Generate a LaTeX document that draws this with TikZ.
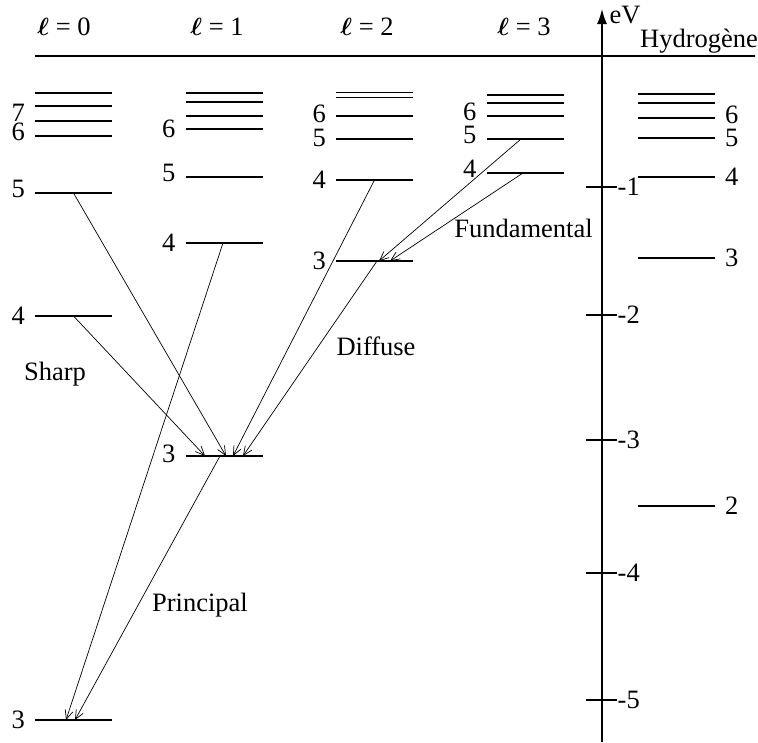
\documentclass[tikz,border=0pt]{standalone}
\usepackage{bm}
\usepackage{fontspec}
\setmainfont{Liberation Serif}
\usetikzlibrary{arrows.meta,positioning}

\begin{document}
\begin{tikzpicture}[x=1pt, y=-1pt,
  font=\fontsize{26.5}{31}\selectfont,
  lvl/.style={inner sep=0pt, outer sep=0pt, minimum width=77pt,
              minimum height=0pt,
              append after command={(\tikzlastnode.west) edge[line width=1.4pt] (\tikzlastnode.east)}},
  num/.style={inner sep=0pt},
  tag/.style={anchor=base, inner sep=0pt},
  trans/.style={-{Straight Barb[length=9pt,width=8pt]}, line width=0.7pt},
  evaxis/.style={-{Latex[length=15pt,width=10pt]}, line width=1.5pt},
  evtick/.style={line width=1.4pt},
  label distance=10pt,
]
  \useasboundingbox (0,0) rectangle (758,742);

  % Column x-coordinates
  \def\xs{73.5}
  \def\xp{224}
  \def\xd{374.5}
  \def\xf{525}
  \def\xh{676.5}
  \def\xaxis{602}

  % Column headings
  \foreach \l/\x in {0/64,1/217,2/367,3/524}
    \node (head\l) at (\x,27) {$\bm{\ell}$ = \l};

  % Zero line
  \coordinate (zl) at (35,56);
  \coordinate (zr) at (755,56);
  \draw[line width=1.4pt] (zl) -- (zr);

  % l = 0
  \node[lvl] (s9) at (\xs,93) {};
  \node[lvl] (s8) at (\xs,106) {};
  \node[lvl, label={[num,yshift=8pt]left:7}] (s7) at (\xs,121) {};
  \node[lvl, label={[num,yshift=4pt]left:6}] (s6) at (\xs,136) {};
  \node[lvl, label={[num,yshift=4pt]left:5}] (s5) at (\xs,193) {};
  \node[lvl, label={[num]left:4}] (s4) at (\xs,316) {};
  \node[lvl, label={[num]left:3}] (s3) at (\xs,720) {};

  % l = 1
  \node[lvl] (p9) at (\xp,93) {};
  \node[lvl] (p8) at (\xp,102) {};
  \node[lvl] (p7) at (\xp,116) {};
  \node[lvl, label={[num]left:6}] (p6) at (\xp,129) {};
  \node[lvl, label={[num,yshift=4pt]left:5}] (p5) at (\xp,177) {};
  \node[lvl, label={[num]left:4}] (p4) at (\xp,243) {};
  \node[lvl, label={[num,yshift=2pt]left:3}] (p3) at (\xp,456) {};

  % l = 2
  \node[lvl] (d8) at (\xd,92.5) {};
  \node[lvl] (d7) at (\xd,97.5) {};
  \node[lvl, label={[num,yshift=2pt]left:6}] (d6) at (\xd,116) {};
  \node[lvl, label={[num,yshift=1pt]left:5}] (d5) at (\xd,139) {};
  \node[lvl, label={[num]left:4}] (d4) at (\xd,180) {};
  \node[lvl, label={[num]left:3}] (d3) at (\xd,261) {};

  % l = 3
  \node[lvl] (f8) at (\xf,95) {};
  \node[lvl] (f7) at (\xf,103) {};
  \node[lvl, label={[num,yshift=4pt]left:6}] (f6) at (\xf,116) {};
  \node[lvl, label={[num,yshift=4pt]left:5}] (f5) at (\xf,139) {};
  \node[lvl, label={[num,yshift=4pt]left:4}] (f4) at (\xf,173) {};

  % Hydrogen
  \node[lvl] (h8) at (\xh,94) {};
  \node[lvl] (h7) at (\xh,103) {};
  \node[lvl, label={[num,yshift=3pt]right:6}] (h6) at (\xh,118) {};
  \node[lvl, label={[num]right:5}] (h5) at (\xh,138) {};
  \node[lvl, label={[num]right:4}] (h4) at (\xh,177) {};
  \node[lvl, label={[num]right:3}] (h3) at (\xh,258) {};
  \node[lvl, label={[num]right:2}] (h2) at (\xh,506) {};

  % Energy axis
  \coordinate (axbot) at (\xaxis,742);
  \coordinate (axtop) at (\xaxis,9);
  \draw[evaxis] (axbot) -- (axtop);
  \node[tag] (ev) at (625,23) {eV};
  \node[tag] (hyd) at (699,47) {Hydrogène};
  \foreach \v/\y in {1/187,2/315,3/440,4/573,5/700}
    \draw[evtick] (586,\y) -- (617,\y) node[right, inner sep=0pt] {-\v};

  % Sharp
  \draw[trans] (s5.center) -- ([xshift=2pt]p3.center);
  \draw[trans] (s4.center) -- ([xshift=-19pt]p3.center);
  \node[tag] (sharp) at (55,380) {Sharp};

  % Diffuse
  \draw[trans] (d4.center) -- ([xshift=9pt]p3.center);
  \draw[trans] ([xshift=2.5pt]d3.center) -- ([xshift=19pt]p3.center);
  \node[tag] (diffuse) at (376,355) {Diffuse};

  % Fundamental
  \draw[trans] ([xshift=-4pt]f5.center) -- ([xshift=4.5pt]d3.center);
  \draw[trans] ([xshift=-2pt]f4.center) -- ([xshift=15.5pt]d3.center);
  \node[tag] (fund) at (523.5,237) {Fundamental};

  % Principal
  \draw[trans] ([xshift=-1pt]p4.center) -- ([xshift=-7.5pt]s3.center);
  \draw[trans] ([xshift=-4pt]p3.center) -- ([xshift=1.5pt]s3.center);
  \node[tag] (princ) at (200,611) {Principal};

\end{tikzpicture}
\end{document}
